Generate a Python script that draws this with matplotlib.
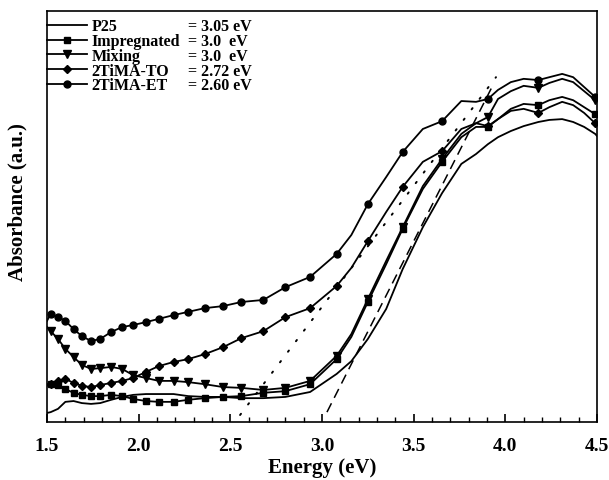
import numpy as np
import matplotlib.pyplot as plt
from matplotlib.lines import Line2D
from matplotlib.ticker import MultipleLocator

plt.rcParams['font.family'] = ['Liberation Serif', 'DejaVu Serif']
plt.rcParams['font.weight'] = 'bold'

# photon energy (eV) shared by all spectra
energy = [1.50, 1.52, 1.56, 1.60, 1.645, 1.69, 1.74, 1.79, 1.85, 1.91, 1.97,
          2.04, 2.11, 2.19, 2.27, 2.36, 2.46, 2.56, 2.68, 2.80, 2.935, 3.08,
          3.16, 3.25, 3.35, 3.44, 3.55, 3.655, 3.76, 3.84, 3.905, 3.96, 4.03,
          4.10, 4.18, 4.24, 4.31, 4.37, 4.43, 4.49, 4.50]
# energies where the symbols sit
marked = [1.52, 1.56, 1.60, 1.645, 1.69, 1.74, 1.79, 1.85, 1.91, 1.97, 2.04,
          2.11, 2.19, 2.27, 2.36, 2.46, 2.56, 2.68, 2.80, 2.935, 3.08, 3.25,
          3.44, 3.655, 3.905, 4.18, 4.49]

p25 = [0.022, 0.024, 0.032, 0.049, 0.051, 0.046, 0.044, 0.046, 0.054, 0.061,
       0.066, 0.068, 0.068, 0.068, 0.063, 0.061, 0.061, 0.058, 0.058, 0.061,
       0.073, 0.117, 0.148, 0.202, 0.275, 0.372, 0.474, 0.557, 0.628, 0.652,
       0.676, 0.693, 0.708, 0.720, 0.730, 0.735, 0.737, 0.730, 0.718, 0.701,
       0.696]
impregnated = [0.092, 0.092, 0.090, 0.080, 0.071, 0.066, 0.063, 0.063, 0.066,
               0.063, 0.056, 0.051, 0.049, 0.049, 0.054, 0.058, 0.061, 0.063,
               0.071, 0.075, 0.092, 0.153, 0.207, 0.292, 0.384, 0.470, 0.567,
               0.633, 0.693, 0.718, 0.718, 0.737, 0.762, 0.774, 0.771, 0.783,
               0.791, 0.783, 0.766, 0.749, 0.745]
mixing = [0.231, 0.221, 0.202, 0.178, 0.158, 0.139, 0.129, 0.131, 0.134, 0.129,
          0.114, 0.107, 0.100, 0.100, 0.097, 0.092, 0.085, 0.083, 0.078, 0.083,
          0.100, 0.161, 0.214, 0.299, 0.392, 0.474, 0.574, 0.640, 0.701, 0.727,
          0.742, 0.786, 0.805, 0.818, 0.813, 0.825, 0.835, 0.827, 0.805, 0.783,
          0.779]
tima_to = [0.088, 0.092, 0.100, 0.105, 0.095, 0.088, 0.085, 0.090, 0.095, 0.100,
           0.107, 0.122, 0.136, 0.146, 0.153, 0.165, 0.182, 0.204, 0.221, 0.255,
           0.277, 0.331, 0.375, 0.440, 0.511, 0.572, 0.633, 0.659, 0.713, 0.727,
           0.720, 0.737, 0.757, 0.762, 0.752, 0.766, 0.779, 0.771, 0.752, 0.727,
           0.720]
tima_et = [0.246, 0.263, 0.255, 0.246, 0.226, 0.209, 0.197, 0.202, 0.219, 0.231,
           0.236, 0.243, 0.251, 0.260, 0.268, 0.277, 0.282, 0.292, 0.297, 0.328,
           0.353, 0.409, 0.455, 0.530, 0.596, 0.657, 0.713, 0.732, 0.781, 0.779,
           0.786, 0.808, 0.827, 0.835, 0.832, 0.839, 0.847, 0.839, 0.815, 0.791,
           0.788]

names = ['P25', 'Impregnated', 'Mixing', '2TiMA-TO', '2TiMA-ET']
gaps = ['= 3.05 eV', '= 3.0  eV', '= 3.0  eV', '= 2.72 eV', '= 2.60 eV']

# Tauc-style extrapolation lines
tan_et_e = [2.553, 3.949]
tan_et_a = [0.017, 0.839]
tan_30_e = [3.027, 3.927]
tan_30_a = [0.024, 0.815]

fig = plt.figure(figsize=(6.09, 4.81), dpi=100)
ax = fig.add_axes([0.0772, 0.1206, 0.9031, 0.8544])

ax.plot(tan_et_e, tan_et_a, color='k', lw=1.4, linestyle=(0, (0.8, 6)),
        dash_capstyle='round', zorder=1)
ax.plot(tan_30_e, tan_30_a, color='k', lw=1.1, linestyle=(0, (6.5, 4)), zorder=1)

idx = [energy.index(e) for e in marked]
series = [p25, impregnated, mixing, tima_to, tima_et]
markers = [None, 's', 'v', 'D', 'o']
sizes = [0, 4.2, 5.5, 4.2, 5]
handles = []
for vals, m, ms, name in zip(series, markers, sizes, names):
    ln, = ax.plot(energy, vals, color='k', lw=1.3, marker=m, ms=ms,
                  markevery=idx if m else None, label=name, zorder=2)
    handles.append(ln)

legprops = dict(loc='upper left', frameon=False, borderaxespad=0, borderpad=0,
                labelspacing=-0.08, numpoints=1, prop=dict(size=11.5, weight='bold'))
leg1 = ax.legend(handles, names, bbox_to_anchor=(0, 0.982), handlelength=2.5,
                 handletextpad=0.3, **legprops)
ax.add_artist(leg1)
blank = [Line2D([], [], linestyle='none') for _ in names]
ax.legend(blank, gaps, bbox_to_anchor=(0.256, 0.982), handlelength=0,
          handletextpad=0, **legprops)

ax.set_xlim(1.5, 4.5)
ax.set_ylim(0, 1)
ax.set_xticks(np.arange(1.5, 4.51, 0.5))
ax.xaxis.set_minor_locator(MultipleLocator(0.1))
ax.set_yticks([])
ax.tick_params(axis='x', which='both', direction='in', top=False)
ax.tick_params(axis='x', which='major', length=6, width=1.2, labelsize=14, pad=11)
ax.tick_params(axis='x', which='minor', length=3.5, width=1)
for s in ax.spines.values():
    s.set_linewidth(1.2)

ax.set_xlabel('Energy (eV)', fontsize=15, fontweight='bold', labelpad=2)
ax.set_ylabel('Absorbance (a.u.)', fontsize=15, fontweight='bold')
ax.yaxis.set_label_coords(-0.035, 0.538)

fig.savefig('out.png', dpi=100)
